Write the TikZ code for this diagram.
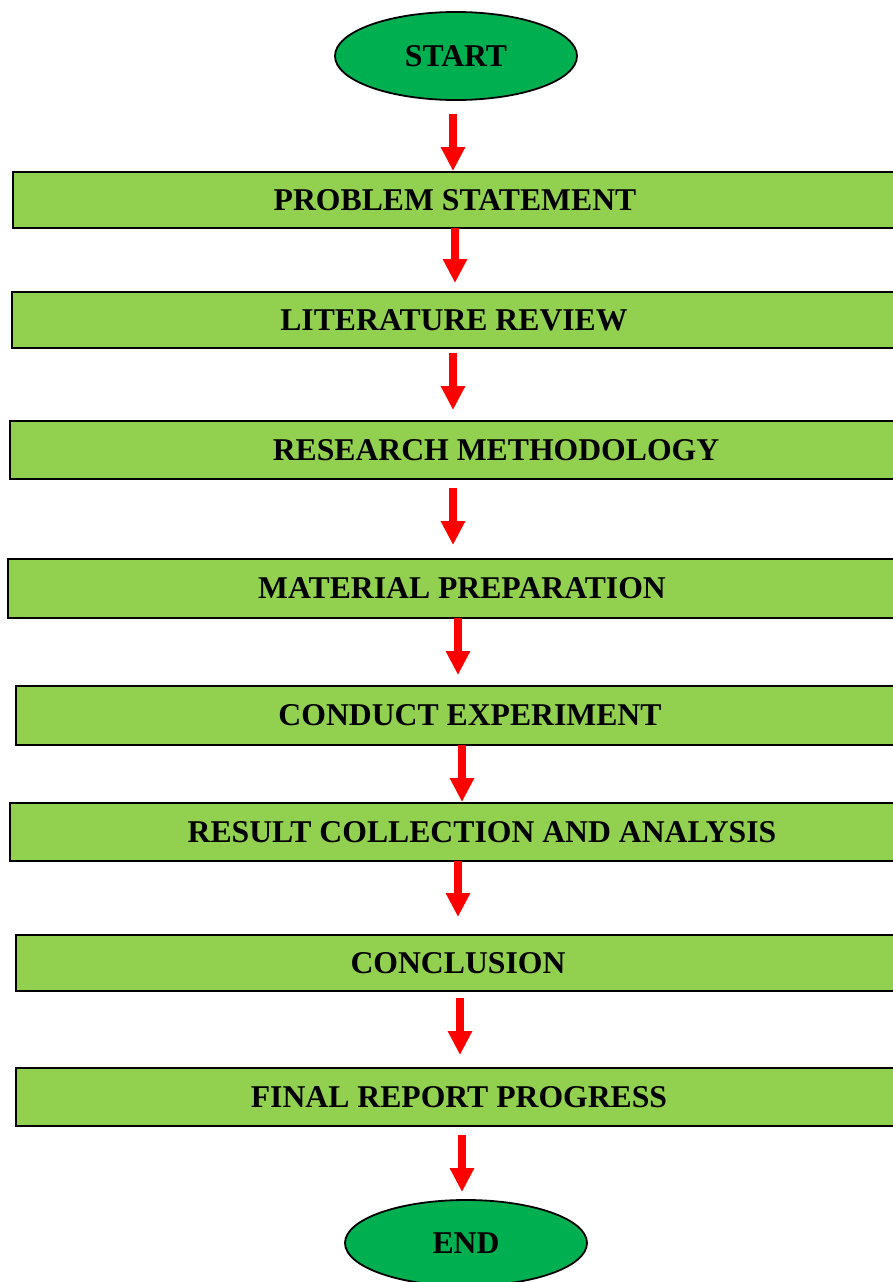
\documentclass[tikz,border=0pt]{standalone}
\usepackage{fontspec}
\setmainfont{Liberation Serif}
\usepackage{xcolor}
\definecolor{StepGreen}{HTML}{92D050}
\definecolor{EndGreen}{HTML}{00B050}
\definecolor{FlowRed}{HTML}{FF0000}
\usepackage{tikz}
\usetikzlibrary{shapes.geometric, arrows.meta, positioning}
\tikzstyle{terminal} = [ellipse, draw=black, fill=EndGreen, text=black, minimum width=242pt, minimum height=88pt, inner sep=0pt, outer sep=0pt, line width=1.8pt, font=\bfseries\fontsize{31.7}{36}\selectfont]
\tikzstyle{stepbox} = [rectangle, draw=black, fill=StepGreen, text=black, line width=1.8pt, inner sep=0pt, outer sep=0pt, font=\bfseries\fontsize{31.7}{36}\selectfont]
\tikzstyle{arrow} = [-{Triangle[length=24pt,width=23pt]}, color=FlowRed, line width=7.7pt]

\begin{document}
\begin{tikzpicture}[node distance=70pt]
        \useasboundingbox (0,0) rectangle (893pt,-1282pt);

        \node [terminal] (start) at (456pt,-56pt) {START};
        \node [stepbox, below=72pt of start, xshift=-1pt, minimum width=884pt, minimum height=56pt] (prob) {PROBLEM STATEMENT};
        \node [stepbox, below=64pt of prob, xshift=-1pt, minimum width=884pt, minimum height=56pt] (lit) {LITERATURE REVIEW};
        \node [stepbox, below=73pt of lit, xshift=42pt, minimum width=972pt, minimum height=58pt] (meth) {RESEARCH METHODOLOGY};
        \node [stepbox, below=80pt of meth, xshift=-34pt, minimum width=908pt, minimum height=59pt] (mat) {MATERIAL PREPARATION};
        \node [stepbox, below=68pt of mat, xshift=8pt, minimum width=908pt, minimum height=59pt] (exp) {CONDUCT EXPERIMENT};
        \node [stepbox, below=58pt of exp, xshift=12pt, minimum width=944pt, minimum height=58pt] (res) {RESULT COLLECTION AND ANALYSIS};
        \node [stepbox, below=74pt of res, xshift=-24pt, minimum width=884pt, minimum height=56pt] (conc) {CONCLUSION};
        \node [stepbox, below=77pt of conc, xshift=1pt, minimum width=886pt, minimum height=58pt] (rep) {FINAL REPORT PROGRESS};
        \node [terminal, below=74pt of rep, xshift=7pt, minimum height=86pt] (end) {END};

        % Connect nodes
        \draw [arrow] ([xshift=-3pt,yshift=-14pt]start.south) -- ([xshift=-2pt,yshift=1pt]prob.north);
        \draw [arrow] (prob.south) -- ([xshift=1pt,yshift=9pt]lit.north);
        \draw [arrow] ([xshift=-1pt,yshift=-5pt]lit.south) -- ([xshift=-43pt,yshift=11pt]meth.north);
        \draw [arrow] ([xshift=-43pt,yshift=-9pt]meth.south) -- ([xshift=-9pt,yshift=14pt]mat.north);
        \draw [arrow] ([xshift=-4pt]mat.south) -- ([xshift=-12pt,yshift=11pt]exp.north);
        \draw [arrow] ([xshift=-8pt]exp.south) -- ([xshift=-20pt,yshift=1pt]res.north);
        \draw [arrow] ([xshift=-24pt]res.south) -- ([yshift=18pt]conc.north);
        \draw [arrow] ([xshift=2pt,yshift=-7pt]conc.south) -- ([xshift=1pt,yshift=13pt]rep.north);
        \draw [arrow] ([xshift=3pt,yshift=-9pt]rep.south) -- ([xshift=-4pt,yshift=8pt]end.north);
    \end{tikzpicture}
\end{document}
